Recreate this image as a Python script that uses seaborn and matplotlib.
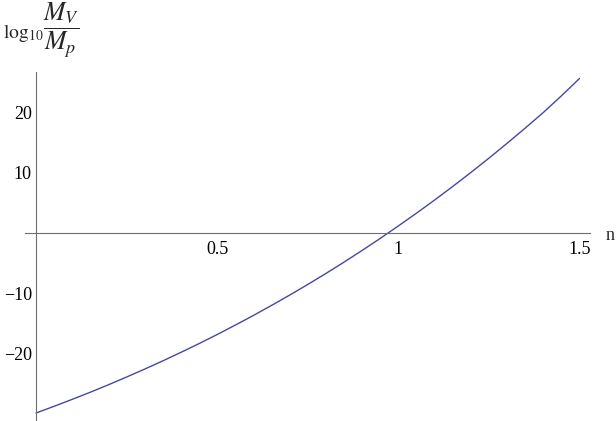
import matplotlib
matplotlib.use("Agg")
import matplotlib.pyplot as plt
import seaborn as sns
import pandas as pd

n_vals = [0.0, 0.05, 0.1, 0.15, 0.2, 0.25, 0.3, 0.35, 0.4, 0.45, 0.5,
          0.55, 0.6, 0.65, 0.7, 0.75, 0.8, 0.85, 0.9, 0.95, 1.0,
          1.05, 1.1, 1.15, 1.2, 1.25, 1.3, 1.35, 1.4, 1.45, 1.5]
log_ratio = [-30.0, -28.88, -27.72, -26.53, -25.29, -24.0, -22.68, -21.31, -19.89, -18.43, -16.92,
             -15.35, -13.74, -12.07, -10.35, -8.58, -6.75, -4.86, -2.91, -0.9, 1.17,
             3.3, 5.49, 7.75, 10.08, 12.47, 14.94, 17.47, 20.07, 22.85, 25.75]
x_ticks = [0.5, 1.0, 1.5]
x_tick_labels = ["0.5", "1", "1.5"]
y_ticks = [-20, -10, 10, 20]
y_tick_labels = ["\u221220", "\u221210", "10", "20"]

sns.set_style("white")
plt.rcParams["font.family"] = ["Liberation Serif", "DejaVu Serif"]
plt.rcParams["mathtext.fontset"] = "stix"

W, H = 616, 421
fig = plt.figure(figsize=(W / 100, H / 100), dpi=100)
ax = fig.add_axes([25 / W, 0.0, (590 - 25) / W, (421 - 72) / H])

df = pd.DataFrame({"n": n_vals, "v": log_ratio})
sns.lineplot(data=df, x="n", y="v", ax=ax, color="#4646a6", linewidth=1.0)

ax.set_xlim(-0.0304, 1.529)
ax.set_ylim(-31.33, 26.83)

axis_color = "#6e6e6e"
for s in ["top", "right"]:
    ax.spines[s].set_visible(False)
ax.spines["left"].set_position(("data", 0))
ax.spines["bottom"].set_position(("data", 0))
for s in ["left", "bottom"]:
    ax.spines[s].set_color(axis_color)
    ax.spines[s].set_linewidth(0.8)

ax.set_xticks(x_ticks)
ax.set_xticklabels(x_tick_labels)
ax.set_yticks(y_ticks)
ax.set_yticklabels(y_tick_labels)
ax.tick_params(axis="x", direction="in", length=5, width=0.7, color=axis_color,
               labelsize=13, pad=6, labelcolor="black")
ax.tick_params(axis="y", direction="in", length=5, width=0.7, color=axis_color,
               labelsize=13, pad=3, labelcolor="black")
ax.set_xlabel("")
ax.set_ylabel("")

fig.text(606 / W, 1 - 236 / H, "n", fontsize=13, ha="left", va="center")
fig.text(3 / W, 1 - 33 / H, r"$\log_{10}$", fontsize=14, ha="left", va="center")
fig.text(43 / W, 1 - 30 / H, r"$\dfrac{M_V}{M_p}$", fontsize=18.5, ha="left", va="center")

fig.savefig("out.png", dpi=100)
